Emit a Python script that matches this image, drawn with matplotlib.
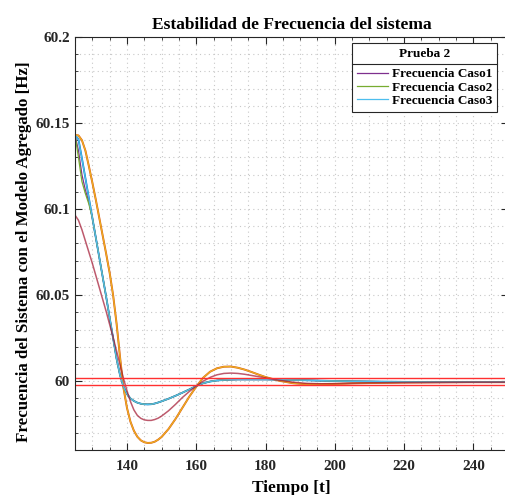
import matplotlib
matplotlib.use("Agg")
import matplotlib.pyplot as plt
from matplotlib.lines import Line2D
from matplotlib.ticker import MultipleLocator, FuncFormatter
from matplotlib.transforms import IdentityTransform

plt.rcParams['font.family'] = ['Liberation Serif', 'DejaVu Serif']
plt.rcParams['font.weight'] = 'bold'

# time axis [s]
t = [125, 126, 127, 128, 129, 130, 131, 132, 133, 134, 135, 136, 137, 138, 139,
     140, 141, 142, 143, 144, 145, 146, 147, 148, 149, 150, 152, 154, 156, 158,
     160, 162, 164, 166, 168, 170, 172, 174, 176, 178, 180, 184, 188, 192, 196,
     200, 205, 210, 220, 230, 240, 250]

# deep response (orange / yellow)
f_deep = [60.1430, 60.1428, 60.1400, 60.1340, 60.1250, 60.1155, 60.1055, 60.0950,
          60.0845, 60.0740, 60.0630, 60.0500, 60.0335, 60.0140, 59.9960,
          59.9845, 59.9765, 59.9712, 59.9677, 59.9656, 59.9645, 59.9641, 59.9642,
          59.9648, 59.9660, 59.9676, 59.9722, 59.9780, 59.9845, 59.9910,
          59.9968, 60.0020, 60.0055, 60.0075, 60.0084, 60.0085, 60.0078, 60.0067,
          60.0053, 60.0038, 60.0024, 60.0002, 59.9988, 59.9982, 59.9982,
          59.9984, 59.9987, 59.9989, 59.9992, 59.9993, 59.9994, 59.9994]

# medium response (dark red)
f_mid = [60.0965, 60.0935, 60.0880, 60.0815, 60.0750, 60.0685, 60.0615, 60.0545,
         60.0475, 60.0405, 60.0330, 60.0255, 60.0175, 60.0095, 60.0015,
         59.9945, 59.9882, 59.9833, 59.9801, 59.9784, 59.9775, 59.9772, 59.9772,
         59.9777, 59.9785, 59.9797, 59.9828, 59.9865, 59.9905, 59.9940,
         59.9972, 60.0000, 60.0022, 60.0037, 60.0045, 60.0047, 60.0045, 60.0040,
         60.0033, 60.0026, 60.0019, 60.0005, 59.9994, 59.9987, 59.9985,
         59.9986, 59.9988, 59.9990, 59.9992, 59.9993, 59.9994, 59.9994]

# shallow response (blue / cyan)
f_shallow = [60.1430, 60.1405, 60.1295, 60.1180, 60.1065, 60.0950, 60.0835, 60.0720,
             60.0605, 60.0490, 60.0370, 60.0250, 60.0130, 60.0035, 59.9968,
             59.9925, 59.9900, 59.9885, 59.9875, 59.9869, 59.9866, 59.9865, 59.9866,
             59.9870, 59.9876, 59.9883, 59.9898, 59.9915, 59.9933, 59.9952,
             59.9972, 59.9988, 59.9998, 60.0004, 60.0007, 60.0009, 60.0010, 60.0010,
             60.0010, 60.0010, 60.0010, 60.0009, 60.0007, 60.0005, 60.0003,
             60.0001, 59.9999, 59.9998, 59.9996, 59.9995, 59.9995, 59.9995]

# fast initial drop that joins the shallow curve
f_case1_start = [60.1430, 60.1340, 60.1200, 60.1110, 60.1040]
f_case2_start = [60.1430, 60.1300, 60.1160, 60.1090, 60.1030]
f_case1 = f_case1_start + f_shallow[5:]
f_case2 = f_case2_start + f_shallow[5:]

band = [60.002, 59.998]

legend_title = "Prueba 2"
legend_labels = ["Frecuencia Caso1", "Frecuencia Caso2", "Frecuencia Caso3"]

fig = plt.figure(figsize=(5.05, 4.95), dpi=100)
ax = fig.add_axes([75 / 505, 45 / 495, 433 / 505, 413 / 495])

ax.plot(t, f_shallow, color='#0072BD', lw=1.3)
ax.plot(t, f_deep, color='#D95319', lw=1.4)
ax.plot(t, f_deep, color='#EDB120', lw=0.9)
l1, = ax.plot(t, f_case1, color='#7E2F8E', lw=0.9)
l2, = ax.plot(t, f_case2, color='#77AC30', lw=0.9)
l3, = ax.plot(t, f_shallow, color='#4DBEEE', lw=0.9)
ax.plot(t, f_mid, color='#A2142F', lw=1.1, alpha=0.7)
for b in band:
    ax.axhline(b, color='#FF3030', lw=1.0)

ax.set_xlim(125, 250)
ax.set_ylim(59.96, 60.2)
ax.xaxis.set_major_locator(MultipleLocator(20))
ax.xaxis.set_minor_locator(MultipleLocator(5))
ax.yaxis.set_major_locator(MultipleLocator(0.05))
ax.yaxis.set_minor_locator(MultipleLocator(0.01))
ax.yaxis.set_major_formatter(FuncFormatter(lambda v, p: '%g' % round(v, 2)))
ax.set_xticks([140, 160, 180, 200, 220, 240])

ax.grid(True, which='both', color='#c8c8c8', linestyle=(0, (1, 3)), lw=0.8)
ax.tick_params(which='both', direction='in', top=True, right=True,
               colors='#262626', labelsize=11)
ax.tick_params(axis='x', which='major', pad=7)
ax.tick_params(which='major', length=5)
ax.tick_params(which='minor', length=2.5)
for s in ax.spines.values():
    s.set_color('#262626')
    s.set_linewidth(0.8)

ax.set_title("Estabilidad de Frecuencia del sistema", fontsize=12.5,
             fontweight='bold', pad=6)
ax.set_xlabel("Tiempo [t]", fontsize=12.5, fontweight='bold', labelpad=5)
ax.set_ylabel("Frecuencia del Sistema con el Modelo Agregado [Hz]",
              fontsize=12.2, fontweight='bold')
ax.yaxis.set_label_coords(-0.10, 0.48)

leg = ax.legend([l1, l2, l3], legend_labels, title=legend_title,
                loc='upper right', bbox_to_anchor=(0.975, 0.985),
                fancybox=False, framealpha=1, edgecolor='#262626',
                prop={'size': 9.5, 'weight': 'bold'},
                title_fontproperties={'size': 9.5, 'weight': 'bold'},
                handlelength=2.3, handletextpad=0.3, labelspacing=0.08,
                borderaxespad=0, borderpad=0.4)
leg.get_frame().set_linewidth(0.8)
leg._legend_box.sep = 5.5

fig.canvas.draw()
r = fig.canvas.get_renderer()
fb = leg.get_frame().get_window_extent(r)
tb = leg.get_title().get_window_extent(r)
hb = leg._legend_handle_box.get_window_extent(r)
ysep = (tb.y0 + hb.y1) / 2
fig.add_artist(Line2D([fb.x0, fb.x1], [ysep, ysep], transform=IdentityTransform(),
                      color='#262626', lw=0.8))

fig.savefig("out.png", dpi=100)
